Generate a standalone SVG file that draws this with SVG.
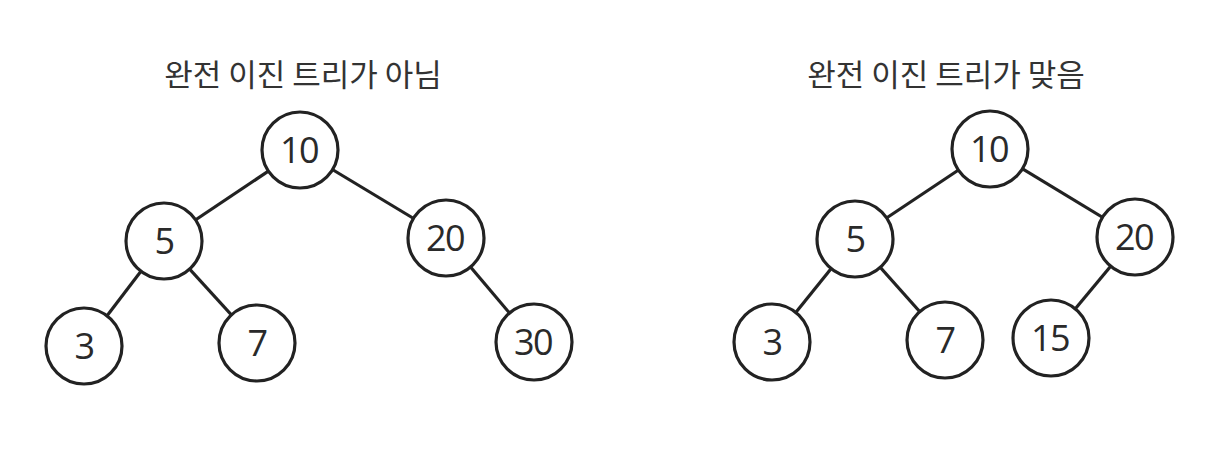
<svg xmlns="http://www.w3.org/2000/svg" width="1220" height="466" viewBox="0 0 1220 466">
<style>
.edge{stroke:#222;stroke-width:3.2;fill:none}
.node circle{fill:#fff;stroke:#222;stroke-width:3.2}
.node text{font-family:"Open Sans","Noto Sans",sans-serif;font-size:36px;fill:#2a2a2a;text-anchor:middle;letter-spacing:-1.5px}
.title{font-family:"Noto Sans CJK KR","Noto Sans",sans-serif;font-size:31px;fill:#333;text-anchor:middle}
</style>
<rect width="1220" height="466" fill="#fff"/>
<text class="title" x="303" y="86">완전 이진 트리가 아님</text>
<text class="title" x="946" y="86">완전 이진 트리가 맞음</text>
<g id="connectors">
<line class="edge" x1="300" y1="150" x2="164" y2="241"/>
<line class="edge" x1="300" y1="150" x2="446" y2="238"/>
<line class="edge" x1="164" y1="241" x2="84" y2="346"/>
<line class="edge" x1="164" y1="241" x2="257" y2="343"/>
<line class="edge" x1="446" y1="238" x2="534" y2="342"/>
<line class="edge" x1="990" y1="149" x2="855" y2="239"/>
<line class="edge" x1="990" y1="149" x2="1135" y2="237"/>
<line class="edge" x1="855" y1="239" x2="772" y2="342"/>
<line class="edge" x1="855" y1="239" x2="945" y2="340"/>
<line class="edge" x1="1135" y1="237" x2="1051" y2="338"/>
</g>
<g id="L10" class="node"><circle cx="300" cy="150" r="38"/><text x="299" y="163">10</text></g>
<g id="L5" class="node"><circle cx="164" cy="241" r="38"/><text x="164" y="254">5</text></g>
<g id="L20" class="node"><circle cx="446" cy="238" r="38"/><text x="445" y="251">20</text></g>
<g id="L3" class="node"><circle cx="84" cy="346" r="38"/><text x="84" y="359">3</text></g>
<g id="L7" class="node"><circle cx="257" cy="343" r="38"/><text x="257" y="356">7</text></g>
<g id="L30" class="node"><circle cx="534" cy="342" r="38"/><text x="533" y="355">30</text></g>
<g id="R10" class="node"><circle cx="990" cy="149" r="38"/><text x="989" y="162">10</text></g>
<g id="R5" class="node"><circle cx="855" cy="239" r="38"/><text x="855" y="252">5</text></g>
<g id="R20" class="node"><circle cx="1135" cy="237" r="38"/><text x="1134" y="250">20</text></g>
<g id="R3" class="node"><circle cx="772" cy="342" r="38"/><text x="772" y="355">3</text></g>
<g id="R7" class="node"><circle cx="945" cy="340" r="38"/><text x="945" y="353">7</text></g>
<g id="R15" class="node"><circle cx="1051" cy="338" r="38"/><text x="1050" y="351">15</text></g>
</svg>
